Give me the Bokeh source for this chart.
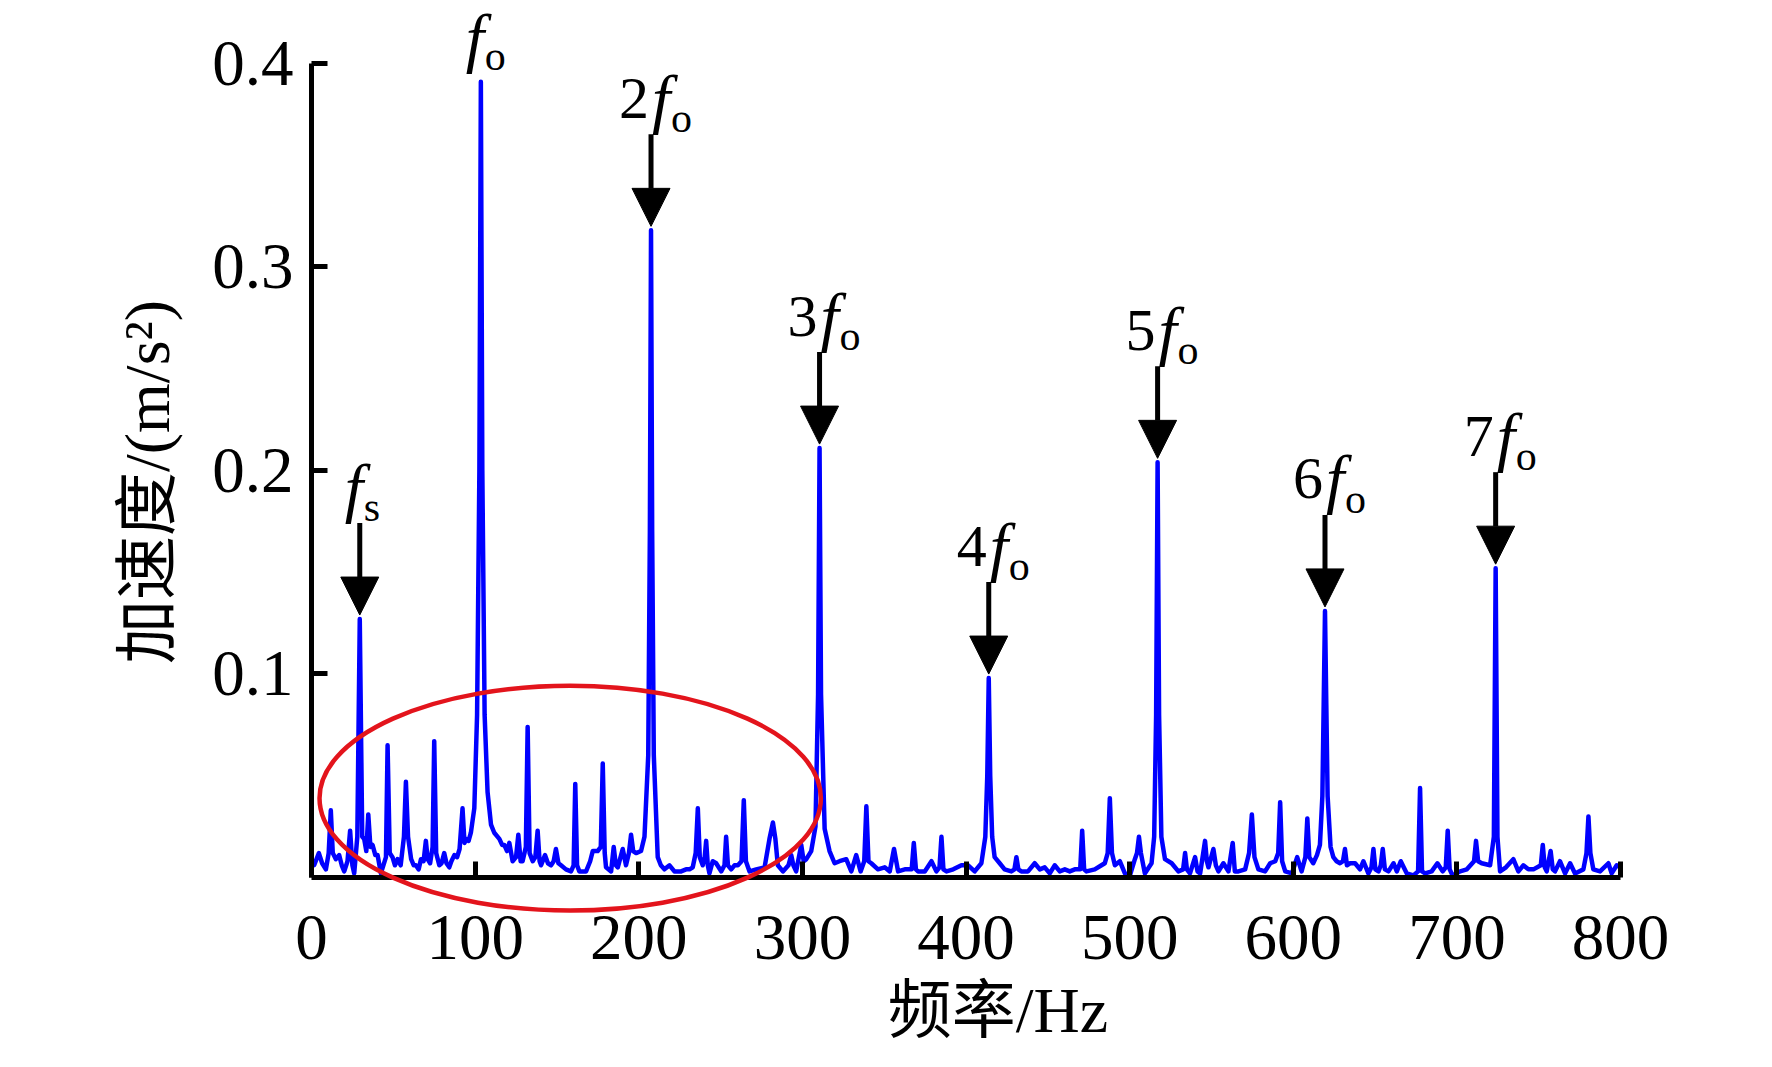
from bokeh.plotting import figure
from bokeh.models import Range1d, FixedTicker, Arrow, NormalHead, ColumnDataSource
from bokeh.core.properties import value
from bokeh.embed import file_html
from bokeh.resources import INLINE

# ---------------- data ----------------
freq_0_200 = [0.5, 1.6, 4.5, 6.5, 8.8, 10.5, 11.8, 13.0, 14.9, 16.9, 18.5, 20.0, 22.0, 23.6, 25.0, 26.1, 28.0, 29.5,
              31.0, 32.2, 33.5, 34.7, 36.0, 37.3, 39.0, 40.4, 42.4, 45.5, 46.5, 47.8, 49.5, 51.0, 52.6, 54.5, 56.5,
              57.7, 59.0, 60.9, 62.5, 63.8, 65.5, 66.9, 68.5, 69.9, 71.0, 72.5, 74.0, 75.0, 76.2, 78.1, 79.5, 81.1,
              82.5, 84.2, 85.5, 87.3, 89.0, 90.5, 92.3, 93.5, 94.4, 96.0, 97.4, 99.5, 101.2, 102.6, 103.5, 104.4,
              105.8, 107.6, 109.7, 111.7, 114.8, 116.5, 117.8, 119.5, 120.9, 122.9, 125.0, 126.4, 127.8, 129.0,
              131.0, 132.1, 133.3, 135.2, 136.8, 138.2, 139.4, 140.3, 142.7, 144.5, 146.4, 148.0, 149.4, 150.9,
              152.5, 155.5, 158.6, 160.2, 161.2, 162.3, 163.7, 167.8, 170.3, 171.9, 174.9, 176.8, 178.0, 179.2,
              180.0, 183.1, 184.7, 186.0, 187.2, 190.2, 192.2, 194.0, 195.3, 196.6, 198.4]
acc_0_200 = [0.006, 0.006, 0.012, 0.007, 0.004, 0.012, 0.033, 0.012, 0.009, 0.011, 0.006, 0.003, 0.008, 0.023, 0.006,
             0.002, 0.020, 0.127, 0.020, 0.019, 0.013, 0.031, 0.015, 0.016, 0.011, 0.011, 0.002, 0.010, 0.065, 0.012,
             0.010, 0.006, 0.009, 0.006, 0.020, 0.047, 0.020, 0.009, 0.006, 0.006, 0.004, 0.009, 0.008, 0.018, 0.009,
             0.007, 0.015, 0.067, 0.012, 0.006, 0.007, 0.012, 0.007, 0.005, 0.008, 0.011, 0.010, 0.014, 0.034, 0.017,
             0.019, 0.018, 0.022, 0.034, 0.080, 0.200, 0.391, 0.200, 0.080, 0.042, 0.026, 0.022, 0.019, 0.016, 0.016,
             0.013, 0.017, 0.008, 0.010, 0.021, 0.008, 0.008, 0.015, 0.074, 0.012, 0.008, 0.010, 0.023, 0.008, 0.006,
             0.011, 0.007, 0.006, 0.008, 0.014, 0.007, 0.006, 0.004, 0.003, 0.006, 0.046, 0.006, 0.003, 0.003, 0.008,
             0.013, 0.013, 0.015, 0.056, 0.012, 0.005, 0.003, 0.015, 0.006, 0.005, 0.014, 0.006, 0.012, 0.021, 0.013,
             0.012]

freq_200_400 = [201.4, 203.5, 205.8, 206.8, 207.5, 208.2, 209.2, 211.6, 213.5, 215.7, 218.8, 221.8, 225.9, 228.9,
                231.0, 233.0, 234.8, 236.1, 237.3, 239.1, 240.3, 241.2, 242.2, 243.2, 245.2, 247.3, 250.4, 252.4,
                253.4, 254.5, 256.5, 258.5, 260.6, 262.8, 264.2, 265.5, 267.7, 271.8, 276.9, 279.9, 282.0, 283.5,
                285.0, 288.1, 291.5, 293.2, 294.5, 296.2, 299.3, 300.8, 302.4, 305.4, 308.0, 309.6, 310.5, 311.4,
                313.6, 316.6, 319.7, 322.7, 326.8, 329.9, 332.9, 335.6, 337.8, 339.1, 340.4, 342.1, 346.2, 350.3,
                353.4, 356.0, 358.5, 362.6, 366.8, 368.1, 369.4, 370.7, 374.8, 378.9, 381.9, 383.8, 385.0, 386.2,
                388.1, 392.2, 397.2]
acc_200_400 = [0.013, 0.020, 0.060, 0.170, 0.318, 0.170, 0.060, 0.010, 0.006, 0.004, 0.006, 0.003, 0.003, 0.004,
               0.004, 0.005, 0.012, 0.034, 0.010, 0.006, 0.010, 0.018, 0.006, 0.002, 0.008, 0.007, 0.003, 0.006,
               0.020, 0.006, 0.004, 0.006, 0.006, 0.008, 0.038, 0.008, 0.003, 0.004, 0.005, 0.019, 0.027, 0.019,
               0.006, 0.003, 0.006, 0.011, 0.006, 0.003, 0.016, 0.008, 0.009, 0.013, 0.025, 0.090, 0.211, 0.090,
               0.024, 0.013, 0.007, 0.008, 0.009, 0.003, 0.011, 0.003, 0.008, 0.035, 0.008, 0.007, 0.004, 0.005,
               0.003, 0.014, 0.003, 0.004, 0.004, 0.017, 0.004, 0.003, 0.003, 0.008, 0.003, 0.005, 0.020, 0.004,
               0.003, 0.004, 0.006]

freq_400_600 = [401.3, 405.3, 409.4, 411.8, 413.0, 413.9, 414.8, 416.0, 417.5, 420.6, 423.6, 427.7, 429.6, 430.8,
                432.0, 433.8, 437.9, 442.0, 445.1, 448.1, 451.2, 454.2, 457.3, 460.4, 463.4, 466.5, 469.8, 471.0,
                472.2, 473.6, 478.7, 482.8, 484.8, 486.6, 487.9, 489.2, 491.0, 494.0, 497.1, 500.2, 503.2, 504.5,
                505.7, 506.9, 509.3, 513.4, 515.0, 516.2, 517.1, 518.0, 519.4, 521.6, 525.7, 529.8, 532.7, 533.9,
                535.0, 536.9, 540.0, 541.5, 543.1, 546.1, 547.2, 548.2, 551.2, 552.7, 554.3, 557.3, 560.4, 563.0,
                564.3, 566.5, 570.6, 573.0, 574.7, 576.3, 578.7, 582.8, 585.9, 589.0, 590.8, 592.0, 593.2, 595.1,
                599.2]
acc_400_600 = [0.006, 0.003, 0.007, 0.020, 0.050, 0.098, 0.050, 0.020, 0.010, 0.007, 0.004, 0.003, 0.004, 0.010,
               0.004, 0.003, 0.003, 0.007, 0.004, 0.005, 0.002, 0.006, 0.003, 0.004, 0.003, 0.004, 0.004, 0.023,
               0.004, 0.003, 0.004, 0.006, 0.007, 0.012, 0.039, 0.012, 0.006, 0.008, 0.002, 0.001, 0.009, 0.012,
               0.020, 0.012, 0.002, 0.007, 0.020, 0.080, 0.204, 0.080, 0.020, 0.009, 0.007, 0.003, 0.004, 0.012,
               0.004, 0.002, 0.010, 0.003, 0.002, 0.018, 0.008, 0.005, 0.014, 0.006, 0.003, 0.007, 0.003, 0.017,
               0.003, 0.003, 0.004, 0.012, 0.031, 0.010, 0.004, 0.003, 0.007, 0.008, 0.012, 0.037, 0.008, 0.003,
               0.002]

freq_600_800 = [602.4, 605.1, 607.4, 608.6, 609.8, 612.2, 614.5, 616.3, 617.8, 618.6, 619.4, 620.2, 621.0, 622.8,
                624.5, 626.5, 628.6, 630.4, 631.6, 632.8, 634.7, 637.8, 640.8, 642.9, 645.9, 647.8, 649.0, 650.2,
                652.1, 653.5, 654.7, 656.0, 658.2, 661.3, 663.3, 665.7, 667.5, 669.4, 673.4, 676.3, 677.5, 678.7,
                680.6, 684.6, 688.1, 691.3, 693.2, 694.4, 695.6, 697.4, 702.0, 706.1, 710.5, 711.7, 713.0, 715.2,
                720.3, 722.6, 723.7, 724.8, 726.4, 730.0, 734.5, 737.6, 740.6, 743.7, 746.8, 751.3, 752.5, 753.7,
                754.9, 757.3, 758.6, 760.0, 763.0, 766.1, 769.2, 772.2, 777.3, 779.2, 780.4, 781.6, 783.4, 787.5,
                792.6, 794.6, 797.7, 800.0]
acc_600_800 = [0.010, 0.003, 0.010, 0.029, 0.010, 0.007, 0.011, 0.016, 0.040, 0.085, 0.131, 0.085, 0.040, 0.015,
               0.010, 0.008, 0.007, 0.008, 0.014, 0.006, 0.007, 0.007, 0.004, 0.008, 0.002, 0.005, 0.014, 0.004,
               0.003, 0.006, 0.014, 0.004, 0.003, 0.007, 0.003, 0.008, 0.005, 0.002, 0.001, 0.003, 0.044, 0.003,
               0.002, 0.003, 0.007, 0.003, 0.005, 0.023, 0.004, 0.001, 0.003, 0.004, 0.008, 0.018, 0.008, 0.007,
               0.006, 0.020, 0.152, 0.020, 0.003, 0.005, 0.009, 0.003, 0.006, 0.004, 0.004, 0.006, 0.016, 0.005,
               0.003, 0.013, 0.004, 0.003, 0.008, 0.002, 0.007, 0.002, 0.004, 0.012, 0.030, 0.012, 0.004, 0.003,
               0.007, 0.002, 0.006, 0.005]

# annotated peaks
peak_freqs = [29.5, 103.5, 207.5, 310.5, 413.9, 517.1, 619.4, 723.7]
peak_coefs = ["", "", "2", "3", "4", "5", "6", "7"]
peak_subs = ["s", "o", "o", "o", "o", "o", "o", "o"]
peak_arrow = [True, False, True, True, True, True, True, True]

# highlighted region (red ellipse): centre, width (Hz), height (m/s^2)
ellipse_freq = [158.1]
ellipse_acc = [0.039]
ellipse_w = [306.4]
ellipse_h = [0.1105]

x_ticks = [0, 100, 200, 300, 400, 500, 600, 700, 800]
y_ticks = [0.1, 0.2, 0.3, 0.4]

freq = freq_0_200 + freq_200_400 + freq_400_600 + freq_600_800
acc = acc_0_200 + acc_200_400 + acc_400_600 + acc_600_800
assert len(freq) == len(acc)

# ---------------- figure ----------------
X0, X1 = 0, 800
Y0, Y1 = 0, 0.428
W, H = 1756, 1051
BL, BR, BT, BB = 311, 136, 6, 174
FW, FH = W - BL - BR, H - BT - BB
PX = (X1 - X0) / FW   # data units per screen px (x)
PY = (Y1 - Y0) / FH   # data units per screen px (y)

SERIF = "Liberation Serif"
MIXED = "Liberation Serif, Noto Sans CJK SC"
NB = "\u00a0"

p = figure(width=W, height=H, x_range=Range1d(X0, X1), y_range=Range1d(Y0, Y1),
           output_backend="svg", toolbar_location=None,
           min_border_left=BL, min_border_right=BR, min_border_top=BT, min_border_bottom=BB)
p.outline_line_color = None
p.grid.visible = False
p.background_fill_color = "white"
p.border_fill_color = "white"

for ax in (p.xaxis[0], p.yaxis[0]):
    ax.axis_line_width = 5
    ax.axis_line_color = "black"
    ax.major_tick_line_width = 5
    ax.major_tick_line_color = "black"
    ax.major_tick_in = 16
    ax.major_tick_out = 0
    ax.minor_tick_line_color = None
    ax.major_label_text_font = SERIF
    ax.major_label_text_font_size = "65px"
    ax.major_label_text_color = "black"
    ax.axis_label_text_font = MIXED
    ax.axis_label_text_font_size = "64px"
    ax.axis_label_text_font_style = "normal"
    ax.axis_label_text_color = "black"

p.xaxis.ticker = FixedTicker(ticks=x_ticks)
p.yaxis.ticker = FixedTicker(ticks=y_ticks)
p.yaxis.bounds = (0, 0.4)
p.xaxis.bounds = (0, 800)
p.xaxis.axis_label = NB * 4 + "频率/Hz"
p.yaxis.axis_label = "加速度/(m/s²)" + NB * 5
p.xaxis.major_label_standoff = 38
p.xaxis.axis_label_standoff = 13
p.yaxis.major_label_standoff = 18
p.yaxis.axis_label_standoff = 26

# spectrum trace
p.line(freq, acc, line_color="#0000FF", line_width=4.5, line_join="round")

# red ellipse (drawn above axes, not clipped)
p.ellipse(x=ellipse_freq, y=ellipse_acc, width=ellipse_w, height=ellipse_h,
          fill_color=None, line_color="#E3141C", line_width=4.5, level="overlay")

# annotations
amp_of = {f: a for f, a in zip(freq, acc)}
ax_, ay0, ay1 = [], [], []
f_x, f_y, s_x, s_y, s_t, c_x, c_y, c_t = [], [], [], [], [], [], [], []
for f, coef, sub, arr in zip(peak_freqs, peak_coefs, peak_subs, peak_arrow):
    a = amp_of[f]
    if arr:
        tip = a + 4 * PY
        top = a + 96 * PY
        ax_.append(f); ay0.append(top); ay1.append(tip)
        base_main = top + 36 * PY
        base_sub = top + 16 * PY
    else:
        base_main = a + 44 * PY
        base_sub = a + 26 * PY
    if coef:
        c_x.append(f - 2 * PX); c_y.append(base_main); c_t.append(coef)
        f_x.append(f + 1 * PX)
        s_x.append(f + 20 * PX)
    else:
        f_x.append(f - 15 * PX)
        s_x.append(f + 4 * PX)
    f_y.append(base_main)
    s_y.append(base_sub); s_t.append(sub)

arrow_src = ColumnDataSource(dict(x=ax_, y0=ay0, y1=ay1))
p.add_layout(Arrow(end=NormalHead(size=38, fill_color="black", line_color="black", line_width=1),
                   x_start="x", y_start="y0", x_end="x", y_end="y1", source=arrow_src,
                   line_width=5, line_color="black"))

p.text(x=c_x, y=c_y, text=c_t, text_font=value(SERIF), text_font_size="60px",
       text_align="right", text_baseline="alphabetic", text_color="black", level="overlay")
p.text(x=f_x, y=f_y, text=["f"] * len(f_x), text_font=value(SERIF), text_font_size="66px",
       text_font_style="italic", text_align="left", text_baseline="alphabetic", text_color="black",
       level="overlay")
p.text(x=s_x, y=s_y, text=s_t, text_font=value(SERIF), text_font_size="42px",
       text_align="left", text_baseline="alphabetic", text_color="black", level="overlay")

open("out.html", "w").write(file_html(p, INLINE))
